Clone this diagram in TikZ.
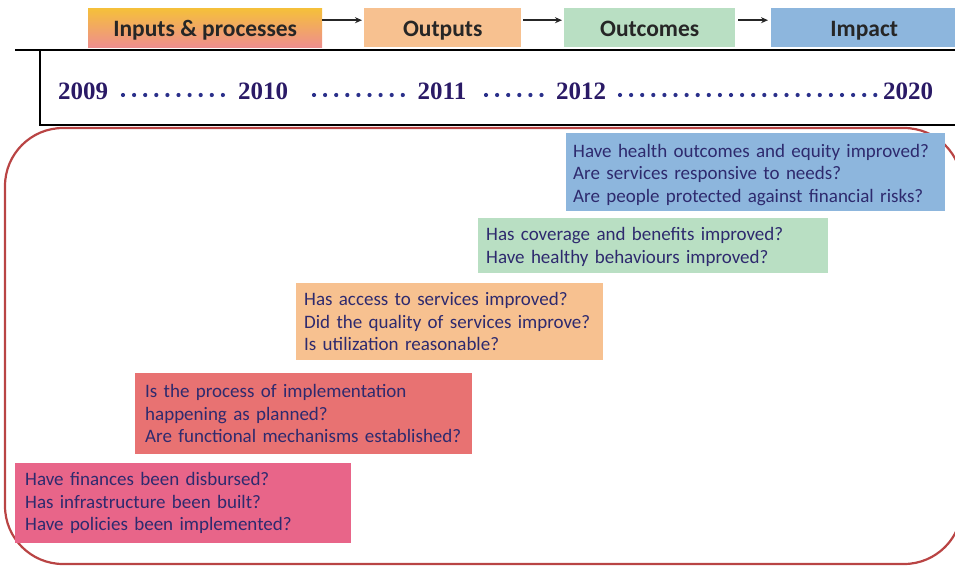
\documentclass[tikz,border=0pt]{standalone}
\usepackage{fontspec}
\setmainfont{Carlito}
\newfontfamily\yearfont{Liberation Serif}
\usetikzlibrary{arrows.meta}
\definecolor{txt}{HTML}{2E2A6E}
\definecolor{yr}{HTML}{2A1A66}
\definecolor{cImpact}{HTML}{8DB6DD}
\definecolor{cOutcome}{HTML}{B9DFC3}
\definecolor{cOutput}{HTML}{F7C190}
\definecolor{cProc}{HTML}{E87272}
\definecolor{cInput}{HTML}{E86589}
\definecolor{frame}{HTML}{B94444}
\definecolor{dots}{HTML}{2A2F8A}
\definecolor{inTop}{HTML}{F5C03A}
\definecolor{inBot}{HTML}{EE8E8E}
\tikzset{
  hdr/.style={anchor=north west, minimum height=39pt, inner sep=0pt, text height=19pt, text depth=2pt, font=\bfseries\fontsize{23.5}{26}\selectfont, text=black!85},
  qbox/.style={anchor=north west, inner xsep=8pt, inner ysep=4pt, align=left, text=txt, font=\fontsize{19}{22.7}\selectfont},
  yearlbl/.style={font=\yearfont\bfseries\fontsize{25}{28}\selectfont, text=yr, inner sep=0pt},
  dotline/.style={dots, line width=4.2pt, line cap=round, dash pattern=on 0pt off 11.1pt},
  hdrarrow/.style={-{Stealth[length=7pt,width=6pt]}, line width=1.4pt, black!85}
}
\begin{document}
\begin{tikzpicture}[x=1pt,y=-1pt]
\useasboundingbox (0,0) rectangle (955,567);
% header boxes
\node[hdr, minimum width=234pt, top color=inTop, bottom color=inBot] (inp) at (88,8) {Inputs \& processes};
\node[hdr, minimum width=157pt, fill=cOutput] (outp) at (364,8) {Outputs};
\node[hdr, minimum width=171pt, fill=cOutcome] (outc) at (564,8) {Outcomes};
\node[hdr, minimum width=186pt, fill=cImpact] (imp) at (771,8) {Impact};
\draw[hdrarrow] ([yshift=7.5pt]inp.east) -- ([yshift=7.5pt,xshift=-2pt]outp.west);
\draw[hdrarrow] ([yshift=7.5pt,xshift=2pt]outp.east) -- ([yshift=7.5pt,xshift=-2pt]outc.west);
\draw[hdrarrow] ([yshift=7.5pt,xshift=3pt]outc.east) -- ([yshift=7.5pt,xshift=-3pt]imp.west);
% red rounded frame
\draw[frame, line width=2.2pt, rounded corners=58pt] (5,128) rectangle (962,564);
% timeline box
\draw[black, line width=2.4pt] (15,50) -- (958,50);
\draw[black, line width=2.4pt] (958,125) -- (40,125) -- (40,50);
\node[yearlbl] (y09) at (83,91) {2009};
\node[yearlbl] (y10) at (263,91) {2010};
\node[yearlbl] (y11) at (442,91) {2011};
\node[yearlbl] (y12) at (581,91) {2012};
\node[yearlbl] (y20) at (908,91) {2020};
\draw[dotline] (123,95) -- (224,95);
\draw[dotline] (314,95) -- (406,95);
\draw[dotline] (486,95) -- (546,95);
\draw[dotline] (620,95) -- (878,95);
% question boxes
\node[qbox, fill=cImpact, minimum width=379pt, minimum height=78pt, text width=365pt, inner xsep=7pt] (b1) at (566,133)
 {\rule{0pt}{18.6pt}Have health outcomes and equity improved?\\Are services responsive to needs?\\Are people protected against financial risks?};
\node[qbox, fill=cOutcome, minimum width=350pt, minimum height=55pt, text width=334pt] (b2) at (478,218)
 {\rule{0pt}{16pt}Has coverage and benefits improved?\\Have healthy behaviours improved?};
\node[qbox, fill=cOutput, minimum width=307pt, minimum height=77pt, text width=291pt] (b3) at (296,283)
 {Has access to services improved?\\Did the quality of services improve?\\Is utilization reasonable?};
\node[qbox, fill=cProc, minimum width=337pt, minimum height=81pt, text width=317pt, inner xsep=10pt] (b4) at (135,373)
 {Is the process of implementation\\happening as planned?\\Are functional mechanisms established?};
\node[qbox, fill=cInput, minimum width=336pt, minimum height=80pt, text width=316pt, inner xsep=10pt] (b5) at (15,463)
 {Have finances been disbursed?\\Has infrastructure been built?\\Have policies been implemented?};
\end{tikzpicture}
\end{document}
